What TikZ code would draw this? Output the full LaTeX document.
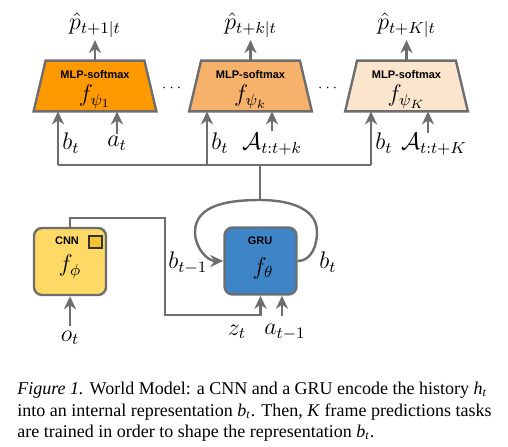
\documentclass[tikz,border=0pt]{standalone}
\usepackage{amsmath, amssymb}
\usepackage[no-math]{fontspec}
\setmainfont{Liberation Serif}
\setsansfont{Liberation Sans}
\usepackage{xcolor}
\usepackage{tikz}
\usetikzlibrary{positioning, arrows.meta}

\definecolor{edgegray}{HTML}{6E6E6E}
\definecolor{mlpA}{HTML}{FF9900}
\definecolor{mlpB}{HTML}{F6B26B}
\definecolor{mlpC}{HTML}{FCE5CD}
\definecolor{cnnyellow}{HTML}{FFD966}
\definecolor{icony}{HTML}{F1C232}
\definecolor{grublue}{HTML}{3D85C6}

\begin{document}
\begin{tikzpicture}[x=0.5pt, y=-0.5pt,
    wire/.style={draw=edgegray, line width=1.2pt},
    arr/.style={wire, -{Stealth[length=6.5pt, width=6pt, inset=2pt]}},
    box/.style={draw=edgegray, line width=1.2pt},
    area/.style={minimum width=61pt, minimum height=25pt, inner sep=0pt},
    cell/.style={box, rounded corners=4pt, minimum width=36pt, minimum height=33.5pt, inner sep=0pt},
    tag/.style={font=\sffamily\bfseries\fontsize{5.5}{6}\selectfont, inner sep=0pt},
    lab/.style={font=\large, inner sep=1pt}]
    \useasboundingbox (0,0) rectangle (508,446);
    % prediction heads
    \foreach \n/\x/\col/\idx/\pred in {1/95/mlpA/\psi_1/t+1|t, k/250.5/mlpB/\psi_k/t+k|t, K/406.5/mlpC/\psi_K/t+K|t} {
        \node[area] (mlp\n) at (\x,86) {};
        \filldraw[box, fill=\col] (mlp\n.south west) -- (mlp\n.south east) -- ([xshift=-6pt]mlp\n.north east) -- ([xshift=6pt]mlp\n.north west) -- cycle;
        \node[tag] (tag\n) at ([yshift=5.5pt]mlp\n.center) {MLP-softmax};
        \node[lab] (f\n) at ([yshift=-5.5pt]mlp\n.center) {$f_{\idx}$};
        \node[lab, anchor=south] (p\n) at (\x,40) {$\hat{p}_{\pred}$};
        \draw[arr] (mlp\n.north) -- (p\n.south);
    }
    \node[font=\scriptsize] (dots1) at (173,88) {$\cdots$};
    \node[font=\scriptsize] (dots2) at (329,88) {$\cdots$};
    % belief fed to every head
    \coordinate (b1) at (58,165);
    \coordinate (bk) at (207,165);
    \coordinate (bK) at (371,165);
    \coordinate (junc) at (260,165);
    \draw[wire] (b1) -- (bK);
    \foreach \n in {1,k,K} \draw[arr] (b\n) -- (b\n |- mlp\n.south);
    \node[lab, anchor=west] (bl1) at (60,143) {$b_t$};
    \node[lab, anchor=west] (blk) at (209,143) {$b_t$};
    \node[lab, anchor=west] (blK) at (373,143) {$b_t$};
    % actions
    \node[lab, anchor=north] (a1) at (117,134) {$a_t$};
    \node[lab, anchor=north] (ak) at (272,131) {$\mathcal{A}_{t:t+k}$};
    \node[lab, anchor=north] (aK) at (434,131) {$\mathcal{A}_{t:t+K}$};
    \coordinate (aKin) at (428,133);
    \draw[arr] (a1.north) -- (a1.north |- mlp1.south);
    \draw[arr] (ak.north) -- (ak.north |- mlpk.south);
    \draw[arr] (aKin) -- (aKin |- mlpK.south);
    % GRU
    \node[cell, fill=grublue] (gru) at (260.5,261) {};
    \node[tag] (grutag) at (260,241) {GRU};
    \node[lab] (gruf) at (263,268) {$f_\theta$};
    \coordinate (looptop) at (260,200);
    \coordinate (loopR) at (317,232);
    \coordinate (loopL) at (195,232);
    \draw[wire] (junc) -- (looptop);
    \draw[arr] (gru.east) to[out=0,in=-90] (loopR) to[out=90,in=0] (looptop) to[out=180,in=90] (loopL) to[out=-90,in=180] (gru.west);
    \node[lab, anchor=west] (bprev) at (166,263) {$b_{t-1}$};
    \node[lab, anchor=west] (bloop) at (317,262) {$b_t$};
    % CNN
    \node[cell, fill=cnnyellow] (cnn) at (70,261.5) {};
    \node[tag] (cnntag) at (67,241) {CNN};
    \node[draw=black!80, line width=0.8pt, fill=icony, minimum width=6.5pt, minimum height=6pt, inner sep=0pt] (cnnicon) at (95.5,242) {};
    \node[lab] (cnnf) at (70,267) {$f_\phi$};
    \coordinate (zup) at (165,218);
    \coordinate (zdn) at (260.5,315);
    \draw[arr] (cnn.north) |- (zup) |- (zdn) -- (gru.south);
    \coordinate (aprev) at (282,316);
    \draw[arr] (aprev) -- (aprev |- gru.south);
    \node[lab] (zt) at (237,332) {$z_t$};
    \node[lab] (atm1) at (285,332) {$a_{t-1}$};
    \coordinate (obs) at (70,326);
    \node[lab] (ot) at (70,338) {$o_t$};
    \draw[arr] (obs) -- (cnn.south);
    % caption
    \node[anchor=north west, align=left, inner sep=0pt, font=\fontsize{9}{10.75}\selectfont] (caption) at (17,382) {\textit{Figure 1.} World Model: a CNN and a GRU encode the history \textit{h}\textsubscript{\textit{t}}\\
        into an internal representation \textit{b}\textsubscript{\textit{t}}. Then, \textit{K} frame predictions tasks\\
        are trained in order to shape the representation \textit{b}\textsubscript{\textit{t}}.};
\end{tikzpicture}
\end{document}
